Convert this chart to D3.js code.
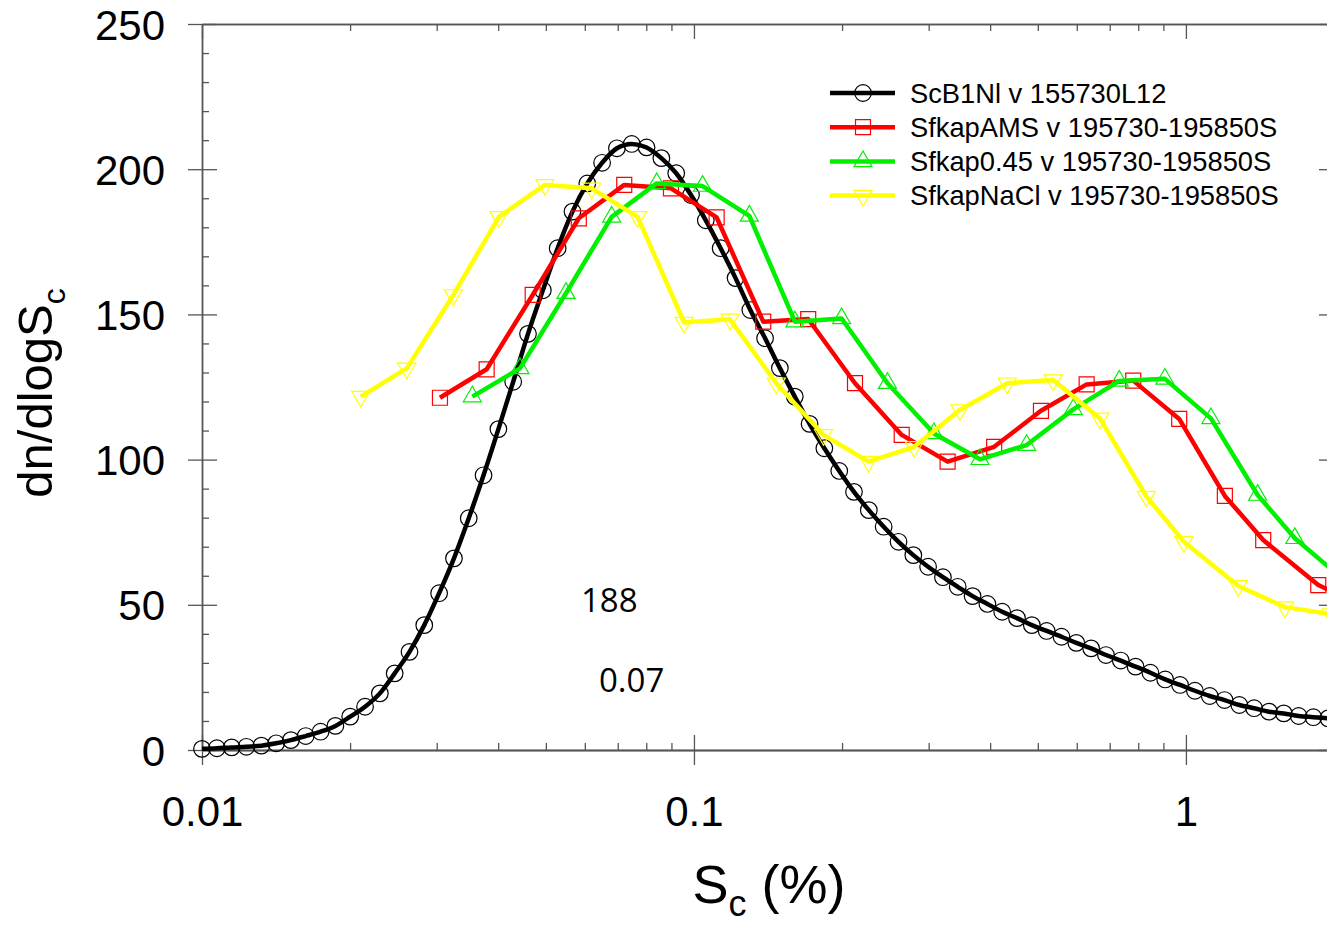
<!DOCTYPE html>
<html>
<head>
<meta charset="utf-8">
<script src="https://cdn.jsdelivr.net/npm/d3@7"></script>
<style>
  body { margin: 0; background: #fff; }
  svg { display: block; }
</style>
</head>
<body>
<script>
// fitted curve (black), Sc in % and dn/dlogSc
const blackS = [0.01, 0.01072, 0.01149, 0.01231, 0.01320, 0.01415, 0.01516, 0.01625, 0.01742, 0.01867,
  0.02001, 0.02145, 0.02299, 0.02464, 0.02641, 0.02830, 0.03034, 0.03252, 0.03485, 0.03735,
  0.04004, 0.04291, 0.04599, 0.04930, 0.05284, 0.05663, 0.06070, 0.06506, 0.06973, 0.07474,
  0.08011, 0.08586, 0.09203, 0.09863, 0.1057, 0.1133, 0.1215, 0.1302, 0.1395, 0.1495,
  0.1603, 0.1718, 0.1841, 0.1974, 0.2115, 0.2267, 0.2430, 0.2605, 0.2792, 0.2992,
  0.3207, 0.3437, 0.3684, 0.3949, 0.4232, 0.4536, 0.4862, 0.5211, 0.5586, 0.5987,
  0.6417, 0.6878, 0.7372, 0.7901, 0.8469, 0.9077, 0.9729, 1.043, 1.118, 1.198,
  1.284, 1.376, 1.475, 1.581, 1.695, 1.816, 1.947];
const blackN = [0.4, 0.6, 0.9, 1.1, 1.5, 2.3, 3.4, 4.8, 6.3, 8.3,
  11.5, 14.9, 19.5, 26.4, 33.8, 43.0, 54.0, 66.0, 79.8, 94.6,
  110.5, 126.8, 143.3, 158.3, 172.8, 185.4, 195.1, 202.2, 207.2, 208.7,
  207.5, 203.8, 198.6, 191.1, 182.4, 172.8, 162.5, 151.5, 141.8, 131.5,
  121.7, 112.3, 103.9, 96.1, 88.9, 82.6, 76.9, 71.7, 67.1, 63.1,
  59.5, 56.2, 53.0, 50.3, 47.6, 45.4, 43.0, 41.0, 39.0, 36.9,
  35.0, 32.7, 30.8, 28.7, 26.6, 24.3, 22.4, 20.4, 18.6, 17.2,
  15.5, 14.4, 13.2, 12.6, 11.7, 11.3, 10.9];

const redS = [0.03046, 0.03790, 0.04701, 0.05833, 0.07216, 0.08980, 0.1112, 0.1383, 0.1707, 0.2125,
  0.2644, 0.3278, 0.4076, 0.5074, 0.6284, 0.7815, 0.9691, 1.200, 1.436, 1.858, 2.301];
const redN = [121.3, 131.1, 156.7, 183.1, 194.6, 193.4, 183.4, 147.5, 148.4, 126.3,
  108.5, 99.3, 104.4, 116.8, 125.9, 127.2, 114.0, 87.5, 72.3, 56.8, 49.5];

const greenS = [0.03544, 0.04429, 0.05494, 0.06804, 0.08401, 0.1041, 0.1296, 0.1604, 0.1996, 0.2474,
  0.3075, 0.3814, 0.4745, 0.5902, 0.7319, 0.9065, 1.124, 1.399, 1.665, 2.154];
const greenN = [121.7, 131.4, 157.3, 183.6, 195.1, 194.2, 183.9, 147.5, 148.6, 126.3,
  109.0, 100.1, 105.0, 117.3, 127.1, 127.8, 114.2, 87.8, 72.9, 56.8];

const yellowS = [0.02102, 0.02607, 0.03243, 0.04015, 0.04980, 0.06196, 0.07682, 0.09553, 0.1184, 0.1470,
  0.1834, 0.2264, 0.2804, 0.3473, 0.4334, 0.5374, 0.6686, 0.8312, 0.9907, 1.278, 1.589, 1.971];
const yellowN = [121.7, 131.4, 156.7, 183.6, 194.6, 193.4, 183.6, 147.2, 148.3, 126.3,
  108.5, 99.3, 104.4, 117.1, 126.3, 127.4, 114.2, 87.3, 71.7, 56.5, 49.2, 46.8];

const seriesNames = ["ScB1Nl v 155730L12", "SfkapAMS v 195730-195850S",
  "Sfkap0.45 v 195730-195850S", "SfkapNaCl v 195730-195850S"];
const seriesColors = ["#000000", "#ff0000", "#00f000", "#ffff00"];
const seriesMarkers = ["circle", "square", "triUp", "triDown"];

const xTicks = [0.01, 0.1, 1];
const xTickLabels = ["0.01", "0.1", "1"];
const yTicks = [0, 50, 100, 150, 200, 250];
const annotations = ["188", "0.07"];

const margin = { top: 24, right: -7, bottom: 177, left: 202 };
const W = 1327, H = 927;
const width = 1132;   // axis runs to Sc = 2, just past the picture edge
const height = H - margin.top - margin.bottom;

const svg = d3.select("body").append("svg")
    .attr("width", W)
    .attr("height", H)
    .style("font-family", "'Liberation Sans', Arial, sans-serif");

const g = svg.append("g")
    .attr("transform", "translate(" + margin.left + "," + margin.top + ")");

const x = d3.scaleLog().domain([0.01, 2]).range([0, width]);
const y = d3.scaleLinear().domain([0, 250]).range([height, 0]);

// minor ticks
const xMinor = [];
[0.01, 0.1, 1].forEach(d => { for (let k = 2; k <= 9; k++) if (d * k <= 2) xMinor.push(d * k); });
const yMinor = d3.range(0, 251, 10).filter(v => v % 50 !== 0);

const axisColor = "#555";

function styleAxis(sel) {
  sel.selectAll("path.domain").attr("stroke", axisColor).attr("stroke-width", 1.3);
  sel.selectAll(".tick line").attr("stroke", axisColor).attr("stroke-width", 1.3);
}

// bottom axis
g.append("g").attr("transform", "translate(0," + height + ")")
  .call(d3.axisBottom(x).tickValues(xTicks).tickSize(15).tickSizeOuter(0).tickPadding(31)
    .tickFormat((d, i) => xTickLabels[i]))
  .call(styleAxis)
  .call(a => a.selectAll("text").attr("font-size", 42).attr("fill", "#000")
    .attr("font-family", "'Liberation Sans', Arial, sans-serif"));
g.append("g").attr("transform", "translate(0," + height + ")")
  .call(d3.axisBottom(x).tickValues(xTicks).tickSize(-15).tickSizeOuter(0).tickFormat(""))
  .call(styleAxis);
g.append("g").attr("transform", "translate(0," + height + ")")
  .call(d3.axisBottom(x).tickValues(xMinor).tickSize(-7).tickSizeOuter(0).tickFormat(""))
  .call(styleAxis);

// top axis
g.append("g")
  .call(d3.axisTop(x).tickValues(xTicks).tickSize(-15).tickSizeOuter(0).tickFormat(""))
  .call(styleAxis);
g.append("g")
  .call(d3.axisTop(x).tickValues(xMinor).tickSize(-7).tickSizeOuter(0).tickFormat(""))
  .call(styleAxis);

// left axis
g.append("g")
  .call(d3.axisLeft(y).tickValues(yTicks).tickSize(14).tickSizeOuter(0).tickPadding(23))
  .call(styleAxis)
  .call(a => a.selectAll("text").attr("font-size", 42).attr("fill", "#000").attr("dy", "0.36em")
    .attr("font-family", "'Liberation Sans', Arial, sans-serif"));
g.append("g")
  .call(d3.axisLeft(y).tickValues(yTicks).tickSize(-15).tickSizeOuter(0).tickFormat(""))
  .call(styleAxis);
g.append("g")
  .call(d3.axisLeft(y).tickValues(yMinor).tickSize(-7).tickSizeOuter(0).tickFormat(""))
  .call(styleAxis);

// right axis
g.append("g").attr("transform", "translate(" + width + ",0)")
  .call(d3.axisRight(y).tickValues(yTicks).tickSize(-15).tickSizeOuter(0).tickFormat(""))
  .call(styleAxis);
g.append("g").attr("transform", "translate(" + width + ",0)")
  .call(d3.axisRight(y).tickValues(yMinor).tickSize(-7).tickSizeOuter(0).tickFormat(""))
  .call(styleAxis);

// marker shapes
function markerPath(type) {
  if (type === "square") return "M-7.5,-7.5H7.5V7.5H-7.5Z";
  if (type === "triUp") return "M0,-10.4L9,5.2L-9,5.2Z";
  if (type === "triDown") return "M0,10.4L9,-5.2L-9,-5.2Z";
  return d3.path().toString();
}

function drawMarkers(sel, pts, type, color) {
  if (type === "circle") {
    sel.selectAll("circle").data(pts).join("circle")
      .attr("cx", d => x(d[0])).attr("cy", d => y(d[1])).attr("r", 8.3)
      .attr("fill", "none").attr("stroke", color).attr("stroke-width", 1.2);
  } else {
    sel.selectAll("path").data(pts).join("path")
      .attr("d", markerPath(type))
      .attr("transform", d => "translate(" + x(d[0]) + "," + y(d[1]) + ")")
      .attr("fill", "none").attr("stroke", color).attr("stroke-width", 1.2);
  }
}

const series = [
  { pts: d3.zip(blackS, blackN), curve: d3.curveMonotoneX },
  { pts: d3.zip(redS, redN), curve: d3.curveLinear },
  { pts: d3.zip(greenS, greenN), curve: d3.curveLinear },
  { pts: d3.zip(yellowS, yellowN), curve: d3.curveLinear }
];

series.forEach((s, i) => {
  const line = d3.line().x(d => x(d[0])).y(d => y(d[1])).curve(s.curve);
  g.append("path").datum(s.pts)
    .attr("d", line)
    .attr("fill", "none")
    .attr("stroke", seriesColors[i])
    .attr("stroke-width", 4.5)
    .attr("stroke-linejoin", "round");
  drawMarkers(g.append("g"), s.pts, seriesMarkers[i], seriesColors[i]);
});

// legend
const legend = svg.append("g").attr("transform", "translate(830,93)");
seriesNames.forEach((name, i) => {
  const row = legend.append("g").attr("transform", "translate(0," + (i * 34.2) + ")");
  row.append("line").attr("x1", 0).attr("x2", 65).attr("y1", 0).attr("y2", 0)
    .attr("stroke", seriesColors[i]).attr("stroke-width", 4.5);
  const mk = row.append("g").attr("transform", "translate(33,0)");
  if (seriesMarkers[i] === "circle") {
    mk.append("circle").attr("r", 8.3).attr("fill", "none")
      .attr("stroke", seriesColors[i]).attr("stroke-width", 1.2);
  } else {
    mk.append("path").attr("d", markerPath(seriesMarkers[i])).attr("fill", "none")
      .attr("stroke", seriesColors[i]).attr("stroke-width", 1.2);
  }
  row.append("text").attr("x", 80).attr("y", 9.5).attr("font-size", 27.3).attr("fill", "#000")
    .text(name);
});

// axis titles
const xTitle = svg.append("text")
    .attr("x", 769).attr("y", 903)
    .attr("text-anchor", "middle")
    .attr("font-size", 54);
xTitle.append("tspan").text("S");
xTitle.append("tspan").attr("font-size", 36).attr("dy", 13).text("c");
xTitle.append("tspan").attr("dy", -13).text(" (%)");

const yTitle = svg.append("text")
    .attr("transform", "translate(52,393) rotate(-90)")
    .attr("text-anchor", "middle")
    .attr("font-size", 49);
yTitle.append("tspan").text("dn/dlogS");
yTitle.append("tspan").attr("font-size", 32).attr("dy", 13).text("c");

// annotations in the plot
svg.append("text").attr("x", 581).attr("y", 612)
  .attr("font-family", "'Open Sans', 'Noto Sans', sans-serif").attr("font-size", 33)
  .text(annotations[0]);
svg.append("text").attr("x", 599).attr("y", 692)
  .attr("font-family", "'Open Sans', 'Noto Sans', sans-serif").attr("font-size", 33)
  .text(annotations[1]);
</script>
</body>
</html>
